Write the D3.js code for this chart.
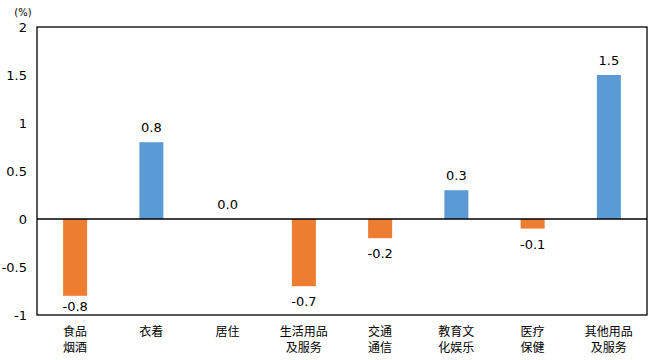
<!DOCTYPE html>
<html><head><meta charset="utf-8">
<script src="https://cdn.jsdelivr.net/npm/d3@7"></script>
<style>body{margin:0;background:#fff;}svg text{font-family:"DejaVu Sans",sans-serif;}</style>
</head><body>
<svg id="c" width="653" height="360"></svg>
<script>
const categories = [["食品","烟酒"],["衣着"],["居住"],["生活用品","及服务"],["交通","通信"],["教育文","化娱乐"],["医疗","保健"],["其他用品","及服务"]];
const values = [-0.8, 0.8, 0.0, -0.7, -0.2, 0.3, -0.1, 1.5];
const yTicks = [-1, -0.5, 0, 0.5, 1, 1.5, 2];
const unitLabel = "(%)";

const svg = d3.select("#c");
const m = {l:37, r:647, t:27, b:315};
const x = d3.scaleBand().domain(d3.range(values.length)).range([m.l, m.r]);
const y = d3.scaleLinear().domain([-1, 2]).range([m.b, m.t]);
const bw = 24;
const fmtTick = d => String(d);
const fmtVal = d => d.toFixed(1);

const yAxis = d3.axisLeft(y).tickValues(yTicks).tickSize(0).tickPadding(10).tickFormat(fmtTick);
const ga = svg.append("g").attr("transform", `translate(${m.l},0)`).call(yAxis);
ga.select(".domain").remove();
ga.selectAll("text").attr("font-size", 13).attr("fill", "#000").attr("font-family", "DejaVu Sans");

svg.append("text").attr("x", 23).attr("y", 16).attr("text-anchor", "middle").attr("font-size", 10).text(unitLabel);

svg.selectAll("rect.bar").data(values).join("rect")
  .attr("x", (d,i) => x(i) + x.bandwidth()/2 - bw/2)
  .attr("width", bw)
  .attr("y", d => y(Math.max(0, d)))
  .attr("height", d => Math.abs(y(d) - y(0)))
  .attr("fill", d => d >= 0 ? "#5B9BD5" : "#ED7D31");

svg.append("line").attr("x1", m.l).attr("x2", m.r).attr("y1", y(0)).attr("y2", y(0)).attr("stroke", "#000").attr("stroke-width", 1.3);

svg.append("rect").attr("x", m.l).attr("y", m.t).attr("width", m.r - m.l).attr("height", m.b - m.t)
  .attr("fill", "none").attr("stroke", "#000").attr("stroke-width", 1.3);

svg.selectAll("text.val").data(values).join("text")
  .attr("x", (d,i) => x(i) + x.bandwidth()/2)
  .attr("y", d => d >= 0 ? y(d) - 10 : Math.min(y(d) + 20, m.b - 4))
  .attr("text-anchor", "middle").attr("font-size", 13)
  .text(fmtVal);

const cg = svg.selectAll("text.cat").data(categories).join("text")
  .attr("text-anchor", "middle").attr("font-size", 12)
  .style("font-family", '"Noto Sans CJK SC", sans-serif');
cg.each(function(lines, i) {
  d3.select(this).selectAll("tspan").data(lines).join("tspan")
    .attr("x", x(i) + x.bandwidth()/2)
    .attr("y", (l, j) => 336 + j * 16)
    .text(l => l);
});
</script>
</body></html>
